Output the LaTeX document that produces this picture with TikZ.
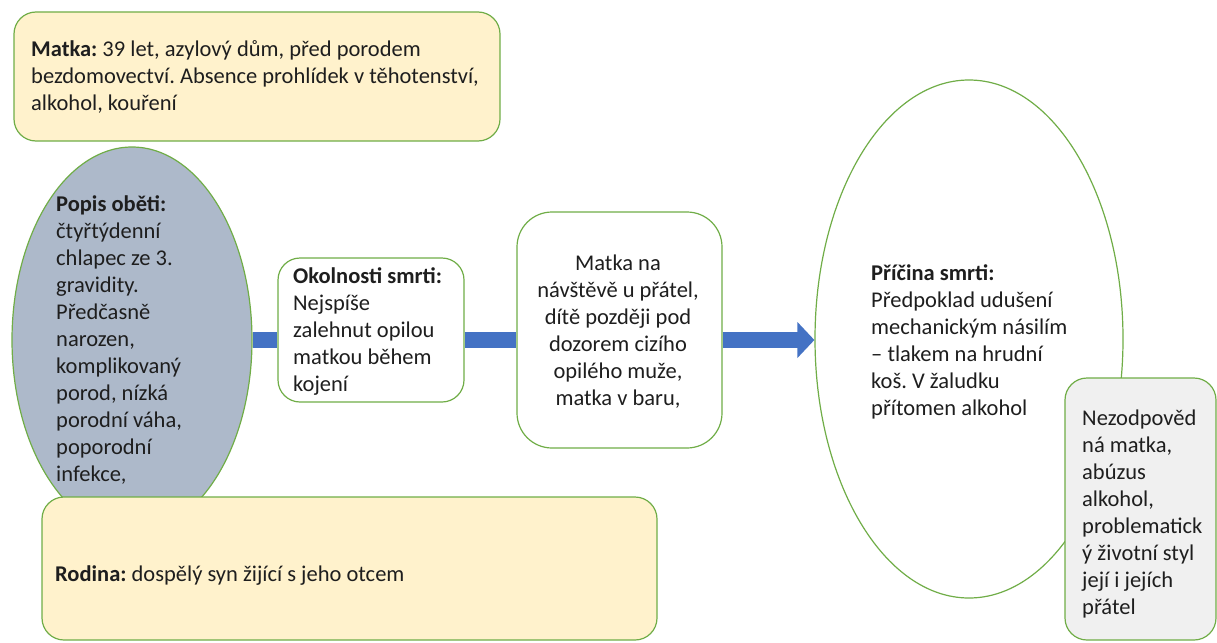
\documentclass[tikz,border=0pt]{standalone}
\usepackage{fontspec}
\setmainfont{Carlito}
\frenchspacing
\usetikzlibrary{shapes.geometric,arrows.meta}
\definecolor{bordergreen}{HTML}{70AD47}
\definecolor{yellowfill}{HTML}{FFF2CC}
\definecolor{ellfill}{HTML}{ADB9CA}
\definecolor{barblue}{HTML}{4472C4}
\definecolor{grayfill}{HTML}{F0F0F0}
\definecolor{txt}{HTML}{1E1E1E}
\begin{document}
\begin{tikzpicture}[x=1pt,y=-1pt,
  every node/.style={font=\fontsize{22.5}{27}\selectfont, text=txt},
  rbox/.style={draw=bordergreen, line width=1.2pt, rectangle, rounded corners=#1, inner sep=0pt},
  oval/.style={draw=bordergreen, line width=1.2pt, ellipse, inner sep=0pt},
  label text/.style={inner sep=0pt, align=left, anchor=west},
  bar/.style={line width=16pt, draw=barblue}
]
\useasboundingbox (0,0) rectangle (1217,642);

% top box
\node[rbox=22pt, fill=yellowfill, minimum width=486pt, minimum height=129pt] (matkaTop) at (257,76.5) {};
\node[label text] (matkaTopText) at (31,77) {\textbf{Matka:} 39 let, azylový dům, před porodem\\bezdomovectví. Absence prohlídek v těhotenství,\\alkohol, kouření};

% left ellipse
\node[oval, fill=ellfill, minimum width=240pt, minimum height=386pt] (ellL) at (132,340) {};
\node[label text] (popis) at (56,340) {\textbf{Popis oběti:}\\čtyřtýdenní\\chlapec ze 3.\\gravidity.\\Předčasně\\narozen,\\komplikovaný\\porod, nízká\\porodní váha,\\poporodní\\infekce,};

% middle boxes
\node[rbox=22pt, fill=white, minimum width=186pt, minimum height=144pt] (okol) at (371,330) {};
\node[label text] (okolText) at (293,332) {\textbf{Okolnosti smrti:}\\Nejspíše\\zalehnut opilou\\matkou během\\kojení};

\node[rbox=35pt, fill=white, minimum width=205pt, minimum height=236pt] (matkana) at (619.5,330) {};
\node[inner sep=0pt, align=center] (matkanaText) at (618,332) {Matka na\\návštěvě u přátel,\\dítě později pod\\dozorem cizího\\opilého muže,\\matka v baru,};

% right ellipse
\node[oval, fill=white, minimum width=308pt, minimum height=518pt] (ellR) at (969,339) {};
\node[label text] (pricinaText) at (871,342) {\textbf{Příčina smrti:}\\Předpoklad udušení\\mechanickým násilím\\– tlakem na hrudní\\koš. V žaludku\\přítomen alkohol};

% gray box
\node[rbox=22pt, fill=grayfill, minimum width=151pt, minimum height=262pt] (gray) at (1140.5,509) {};
\node[label text] (grayText) at (1082,514) {Nezodpověd\\ná matka,\\abúzus\\alkohol,\\problematick\\ý životní styl\\její i jejích\\přátel};

% bottom box
\node[rbox=22pt, fill=yellowfill, minimum width=615pt, minimum height=143pt] (rodina) at (349.5,568.5) {};
\node[label text] (rodinaText) at (55,576) {\textbf{Rodina:} dospělý syn žijící s jeho otcem};

% connectors
\draw[bar] (ellL.east) -- (ellL.east -| okol.west);
\draw[bar] (okol.east |- ellL.east) -- (ellL.east -| matkana.west);
\draw[bar, -{Triangle[length=17pt, width=35pt]}] (matkana.east |- ellL.east) -- (ellR.west |- ellL.east);
\end{tikzpicture}
\end{document}
